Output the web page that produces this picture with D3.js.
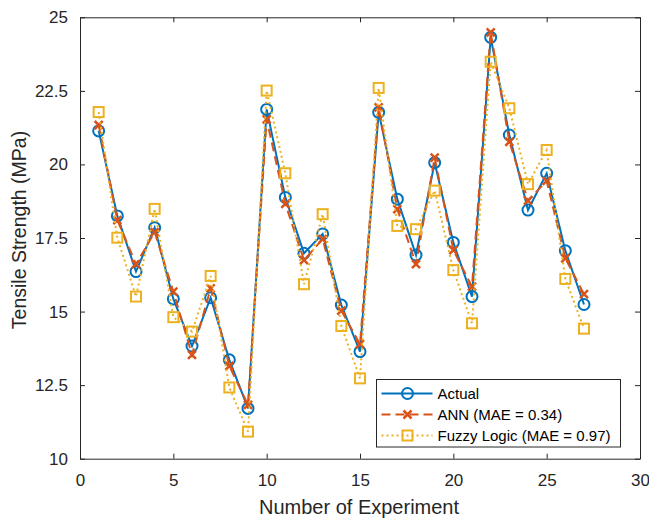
<!DOCTYPE html>
<html>
<head>
<meta charset="utf-8">
<script src="https://cdn.jsdelivr.net/npm/d3@7"></script>
<style>
	body { margin: 0; background: #fff; }
	svg { font-family: "Liberation Sans", Arial, sans-serif; }
</style>
</head>
<body>
<div id="plot"></div>
<script>
//Data
const experiments = d3.range(1, 28);
const actual = [21.14, 18.25, 16.36, 17.85, 15.43, 13.83, 15.47, 13.36, 11.71, 21.87,
	18.88, 16.98, 17.64, 15.22, 13.64, 21.77, 18.82, 16.92, 20.06, 17.35,
	15.51, 24.32, 21.0, 18.45, 19.7, 17.07, 15.24];
const ann = [21.34, 18.11, 16.61, 17.7, 15.68, 13.53, 15.79, 13.15, 11.83, 21.53,
	18.66, 16.75, 17.46, 15.03, 13.89, 21.94, 18.48, 16.61, 20.23, 17.09,
	15.85, 24.49, 20.77, 18.77, 19.44, 16.81, 15.59];
const fuzzy = [21.78, 17.51, 15.51, 18.49, 14.81, 14.32, 16.21, 12.42, 10.92, 22.51,
	19.7, 15.93, 18.31, 14.51, 12.73, 22.6, 17.91, 17.8, 19.11, 16.41,
	14.6, 23.49, 21.91, 19.33, 20.49, 16.11, 14.42];
const xTicks = [0, 5, 10, 15, 20, 25, 30];
const yTicks = [10, 12.5, 15, 17.5, 20, 22.5, 25];
const seriesNames = ['Actual', 'ANN (MAE = 0.34)', 'Fuzzy Logic (MAE = 0.97)'];

const series = [
	{name: seriesNames[0], values: actual, color: '#0072BD', dash: null, marker: 'circle'},
	{name: seriesNames[1], values: ann, color: '#D95319', dash: '9,5', marker: 'cross'},
	{name: seriesNames[2], values: fuzzy, color: '#EDB120', dash: '2,3', marker: 'square'}
];

const W = 649, H = 521;
const m = {left: 80, right: 9, top: 17.3, bottom: 62.3};
const axisColor = '#262626';

const svg = d3.select('#plot').append('svg').attr('width', W).attr('height', H);

const x = d3.scaleLinear().domain([0, 30]).range([m.left, W - m.right]);
const y = d3.scaleLinear().domain([10, 25]).range([H - m.bottom, m.top]);

//Axes with inward ticks on all four sides
const axB = svg.append('g').attr('transform', `translate(0,${y(10)})`)
	.call(d3.axisBottom(x).tickValues(xTicks).tickFormat(d => d).tickSize(-5).tickPadding(15).tickSizeOuter(0));
const axT = svg.append('g').attr('transform', `translate(0,${y(25)})`)
	.call(d3.axisTop(x).tickValues(xTicks).tickSize(-5).tickFormat('').tickSizeOuter(0));
const axL = svg.append('g').attr('transform', `translate(${x(0)},0)`)
	.call(d3.axisLeft(y).tickValues(yTicks).tickFormat(d => d).tickSize(-5).tickPadding(12).tickSizeOuter(0));
const axR = svg.append('g').attr('transform', `translate(${x(30)},0)`)
	.call(d3.axisRight(y).tickValues(yTicks).tickSize(-5).tickFormat('').tickSizeOuter(0));

[axB, axT, axL, axR].forEach(g => {
	g.select('.domain').attr('stroke', axisColor).attr('stroke-width', 1);
	g.selectAll('.tick line').attr('stroke', axisColor);
	g.selectAll('.tick text').attr('fill', '#262626').style('font-size', '17px');
});
axB.selectAll('.tick text').attr('dy', '0.71em');

//Axis labels
svg.append('text')
	.attr('x', 359).attr('y', 514)
	.attr('text-anchor', 'middle')
	.style('font-size', '20px').attr('fill', '#262626')
	.text('Number of Experiment');
svg.append('text')
	.attr('transform', 'translate(26,230) rotate(-90)')
	.attr('text-anchor', 'middle')
	.style('font-size', '19.5px').attr('fill', '#262626')
	.text('Tensile Strength (MPa)');

//Markers
function drawMarker(g, type, color){
	if(type === 'circle'){
		g.append('circle').attr('r', 5.5)
			.attr('fill', 'none').attr('stroke', color).attr('stroke-width', 2);
	}else if(type === 'cross'){
		g.append('path').attr('d', 'M-4,-4L4,4M-4,4L4,-4')
			.attr('fill', 'none').attr('stroke', color).attr('stroke-width', 2.5);
	}else{
		g.append('rect').attr('x', -5).attr('y', -5).attr('width', 10).attr('height', 10)
			.attr('fill', 'none').attr('stroke', color).attr('stroke-width', 2);
	}
}

const line = d3.line().x((d, i) => x(experiments[i])).y(d => y(d));

series.forEach(s => {
	const g = svg.append('g');
	g.append('path').datum(s.values)
		.attr('d', line)
		.attr('fill', 'none')
		.attr('stroke', s.color)
		.attr('stroke-width', 2)
		.attr('stroke-dasharray', s.dash);
	g.selectAll('.pt').data(s.values).enter()
		.append('g').attr('class', 'pt')
		.attr('transform', (d, i) => `translate(${x(experiments[i])},${y(d)})`)
		.each(function(){ drawMarker(d3.select(this), s.marker, s.color); });
});

//Legend
const lg = svg.append('g').attr('transform', 'translate(376.5,379.5)');
lg.append('rect').attr('width', 244).attr('height', 67.5)
	.attr('fill', '#fff').attr('stroke', axisColor).attr('stroke-width', 1);
series.forEach((s, i) => {
	const row = lg.append('g').attr('transform', `translate(0,${14 + i * 21})`);
	row.append('line').attr('x1', 5).attr('x2', 56).attr('y1', 0).attr('y2', 0)
		.attr('stroke', s.color).attr('stroke-width', 2)
		.attr('stroke-dasharray', s.dash);
	drawMarker(row.append('g').attr('transform', 'translate(31,0)'), s.marker, s.color);
	row.append('text').attr('x', 61).attr('y', 0).attr('dy', '0.35em')
		.style('font-size', '15px').attr('fill', '#000')
		.text(s.name);
});
</script>
</body>
</html>
